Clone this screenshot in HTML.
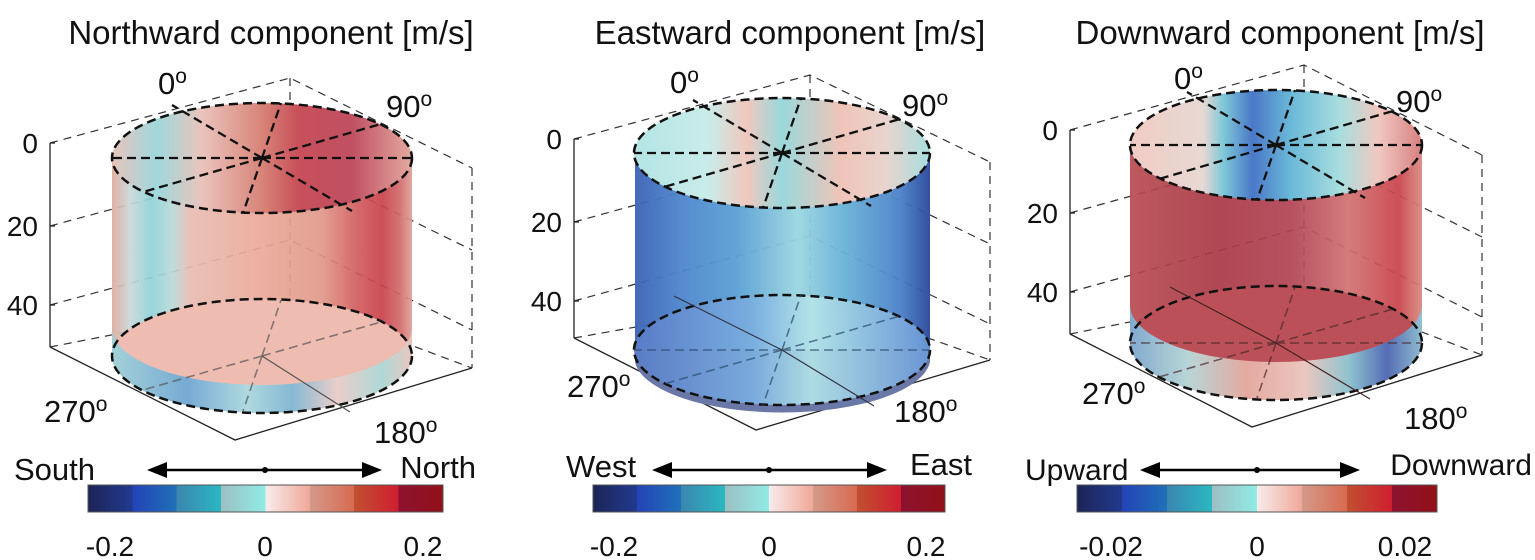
<!DOCTYPE html>
<html><head><meta charset="utf-8"><style>
html,body{margin:0;padding:0;background:#fff}
svg{display:block}
text{font-family:"Liberation Sans",Arial,sans-serif;fill:#111}
</style></head><body>
<svg width="1535" height="560" viewBox="0 0 1535 560" xmlns="http://www.w3.org/2000/svg">
<defs>
<linearGradient id="cb" x1="0" x2="1" y1="0" y2="0">
<stop offset="0" stop-color="#1c2456"/><stop offset="0.125" stop-color="#213a8f"/>
<stop offset="0.125" stop-color="#2443b8"/><stop offset="0.25" stop-color="#1f70b8"/>
<stop offset="0.25" stop-color="#3a86b0"/><stop offset="0.375" stop-color="#2ab8c0"/>
<stop offset="0.375" stop-color="#9cbfc4"/><stop offset="0.5" stop-color="#90ece6"/>
<stop offset="0.5" stop-color="#f8ecec"/><stop offset="0.625" stop-color="#f0a898"/>
<stop offset="0.625" stop-color="#d49a8a"/><stop offset="0.75" stop-color="#d86a50"/>
<stop offset="0.75" stop-color="#c05030"/><stop offset="0.875" stop-color="#d01e30"/>
<stop offset="0.875" stop-color="#8c1230"/><stop offset="1" stop-color="#921018"/>
</linearGradient>
<linearGradient id="s1" x1="0" x2="1">
<stop offset="0" stop-color="#e0a89c"/><stop offset="0.06" stop-color="#c8d8d8"/><stop offset="0.13" stop-color="#8fd2d8"/><stop offset="0.2" stop-color="#b8d8d8"/><stop offset="0.26" stop-color="#e8bcb2"/><stop offset="0.5" stop-color="#eaa898"/><stop offset="0.7" stop-color="#e09888"/><stop offset="0.82" stop-color="#d05a5c"/><stop offset="0.9" stop-color="#c8404a"/><stop offset="0.96" stop-color="#d06a6a"/><stop offset="1" stop-color="#e0a098"/>
</linearGradient>
<linearGradient id="t1" x1="0" x2="1">
<stop offset="0" stop-color="#e8c4bc"/><stop offset="0.15" stop-color="#9fd8dc"/><stop offset="0.3" stop-color="#eac4bc"/><stop offset="0.5" stop-color="#d88478"/><stop offset="0.62" stop-color="#c8505a"/><stop offset="0.8" stop-color="#c05062"/><stop offset="1" stop-color="#e4aaa0"/>
</linearGradient>
<linearGradient id="b1" x1="0" x2="1">
<stop offset="0" stop-color="#9ad4dc"/><stop offset="0.25" stop-color="#6aa8d8"/><stop offset="0.45" stop-color="#a8dce4"/><stop offset="0.6" stop-color="#7ab8d8"/><stop offset="0.75" stop-color="#e8d0cc"/><stop offset="0.9" stop-color="#a8dcdc"/><stop offset="1" stop-color="#e8c8c0"/>
</linearGradient>
<linearGradient id="s2" x1="0" x2="1">
<stop offset="0" stop-color="#3a62b4"/><stop offset="0.15" stop-color="#4c84cc"/><stop offset="0.35" stop-color="#5aa0d4"/><stop offset="0.55" stop-color="#9ad6e0"/><stop offset="0.7" stop-color="#6ab4d8"/><stop offset="0.9" stop-color="#4a80c8"/><stop offset="1" stop-color="#28479a"/>
</linearGradient>
<linearGradient id="t2" x1="0" x2="1">
<stop offset="0" stop-color="#b4e4e4"/><stop offset="0.25" stop-color="#c8ecea"/><stop offset="0.38" stop-color="#f0c8be"/><stop offset="0.5" stop-color="#9ad8dc"/><stop offset="0.7" stop-color="#f0c4b8"/><stop offset="0.85" stop-color="#e8d4ce"/><stop offset="1" stop-color="#a8dede"/>
</linearGradient>
<linearGradient id="b2" x1="0" x2="1">
<stop offset="0" stop-color="#5a7cc8"/><stop offset="0.4" stop-color="#7aaee0"/><stop offset="0.6" stop-color="#b4e4e8"/><stop offset="1" stop-color="#6a98d8"/>
</linearGradient>
<linearGradient id="s3" x1="0" x2="1">
<stop offset="0" stop-color="#b84a50"/><stop offset="0.3" stop-color="#a83844"/><stop offset="0.55" stop-color="#b04252"/><stop offset="0.75" stop-color="#d07070"/><stop offset="0.92" stop-color="#c84048"/><stop offset="1" stop-color="#d88880"/>
</linearGradient>
<linearGradient id="t3" x1="0" x2="1">
<stop offset="0" stop-color="#f0ccc4"/><stop offset="0.25" stop-color="#e8d8d4"/><stop offset="0.32" stop-color="#7ec8d8"/><stop offset="0.42" stop-color="#4a78c8"/><stop offset="0.55" stop-color="#6ab8d8"/><stop offset="0.72" stop-color="#a8dede"/><stop offset="0.85" stop-color="#f0c8c0"/><stop offset="1" stop-color="#d88080"/>
</linearGradient>
<linearGradient id="b3" x1="0" x2="1">
<stop offset="0" stop-color="#7ab4dc"/><stop offset="0.2" stop-color="#b8e4e4"/><stop offset="0.4" stop-color="#e8b4a8"/><stop offset="0.6" stop-color="#f0d4cc"/><stop offset="0.75" stop-color="#8ad0dc"/><stop offset="0.88" stop-color="#4a70c0"/><stop offset="1" stop-color="#8ac8dc"/>
</linearGradient>
</defs>

<text x="271" y="44" font-size="33" text-anchor="middle">Northward component [m/s]</text>
<text x="790" y="44" font-size="33" text-anchor="middle">Eastward component [m/s]</text>
<text x="1280" y="44" font-size="33" text-anchor="middle">Downward component [m/s]</text>

<!-- ===== Panel 1 ===== -->
<g>
 <g stroke="#333" stroke-width="1.2" stroke-dasharray="8,6" fill="none">
  <path d="M50,143 L290,78 L472,168 M290,78 V300 M472,168 V368 M50,226 L290,161 L472,250 M50,305 L290,240 L472,330 M50,347 L290,300 L472,368"/>
 </g>
 <path d="M50,143 V347 M50,143 h5 M50,226 h5 M50,305 h5 M50,347 L235,440 L472,368" stroke="#222" stroke-width="1.3" fill="none"/>
 <path d="M112,158 V356 H412 V158 Z" fill="url(#s1)" opacity="0.92"/>
 <ellipse cx="262" cy="356" rx="150" ry="57" fill="#eebcb0"/>
 <path d="M112,356 A150,57 0 0 0 412,356 L412,328 A150,57 0 0 1 112,328 Z" fill="url(#b1)" opacity="0.9"/>
 <ellipse cx="262" cy="158" rx="150" ry="55" fill="url(#t1)"/>
 <ellipse cx="262" cy="158" rx="150" ry="55" fill="none" stroke="#111" stroke-width="2.5" stroke-dasharray="9,5"/>
 <ellipse cx="262" cy="356" rx="150" ry="57" fill="none" stroke="#111" stroke-width="2.5" stroke-dasharray="9,5"/>
 <g stroke="#111" stroke-width="2.3" stroke-dasharray="9,5">
  <path d="M262,158 L143,192 M262,158 L381,124 M262,158 L172,105 M262,158 L352,211 M262,158 L243,213 M262,158 L281,103 M262,158 L112,158 M262,158 L412,158"/>
 </g>
 <g stroke="#555" stroke-width="1.6" stroke-dasharray="9,5" opacity="0.7">
  <path d="M262,356 L143,390 M262,356 L381,322 M262,356 L243,411 M262,356 L281,300"/>
 </g>
 <path d="M262,356 L350,412" stroke="#555" stroke-width="1.2"/>
 <text x="38" y="153" font-size="28" text-anchor="end">0</text>
 <text x="38" y="236" font-size="28" text-anchor="end">20</text>
 <text x="38" y="315" font-size="28" text-anchor="end">40</text>
 <text x="158" y="94" font-size="31">0<tspan font-size="21" dy="-11">o</tspan></text>
 <text x="386" y="117" font-size="31">90<tspan font-size="21" dy="-11">o</tspan></text>
 <text x="44" y="422" font-size="31">270<tspan font-size="21" dy="-11">o</tspan></text>
 <text x="374" y="443" font-size="31">180<tspan font-size="21" dy="-11">o</tspan></text>
</g>

<!-- ===== Panel 2 ===== -->
<g transform="translate(524,-4)">
 <g stroke="#333" stroke-width="1.2" stroke-dasharray="8,6" fill="none">
  <path d="M50,143 L286,79 L466,166 M286,79 V300 M466,166 V364 M50,226 L286,161 L466,248 M50,305 L286,240 L466,328 M50,342 L286,300 L466,364"/>
 </g>
 <path d="M50,143 V342 M50,143 h5 M50,226 h5 M50,305 h5 M50,342 L232,434 L466,364" stroke="#222" stroke-width="1.3" fill="none"/>
 <path d="M111,157 V354 H406 V157 Z" fill="url(#s2)" opacity="0.95"/>
 <path d="M111,354 V366 A148,55 0 0 0 406,366 V354 Z" fill="#6a78a8"/>
 <ellipse cx="258" cy="354" rx="148" ry="55" fill="url(#b2)" opacity="0.92"/>
 <ellipse cx="258" cy="157" rx="148" ry="55" fill="url(#t2)"/>
 <ellipse cx="258" cy="157" rx="148" ry="55" fill="none" stroke="#111" stroke-width="2.5" stroke-dasharray="9,5"/>
 <ellipse cx="258" cy="354" rx="148" ry="55" fill="none" stroke="#111" stroke-width="2.5" stroke-dasharray="9,5"/>
 <g stroke="#111" stroke-width="2.3" stroke-dasharray="9,5">
  <path d="M258,157 L140,191 M258,157 L376,123 M258,157 L169,104 M258,157 L347,210 M258,157 L239,212 M258,157 L277,102 M258,157 L110,157 M258,157 L406,157"/>
 </g>
 <g stroke="#2a4a6a" stroke-width="1.6" stroke-dasharray="9,5" opacity="0.7">
  <path d="M258,354 L140,388 M258,354 L376,320 M258,354 L239,409 M258,354 L277,299 M258,354 L110,354 M258,354 L406,354"/>
 </g>
 <path d="M258,354 L350,410 M258,354 L150,300" stroke="#334" stroke-width="1.2"/>
 <text x="38" y="153" font-size="28" text-anchor="end">0</text>
 <text x="38" y="236" font-size="28" text-anchor="end">20</text>
 <text x="38" y="315" font-size="28" text-anchor="end">40</text>
 <text x="146" y="97" font-size="31">0<tspan font-size="21" dy="-11">o</tspan></text>
 <text x="378" y="120" font-size="31">90<tspan font-size="21" dy="-11">o</tspan></text>
 <text x="43" y="401" font-size="31">270<tspan font-size="21" dy="-11">o</tspan></text>
 <text x="370" y="426" font-size="31">180<tspan font-size="21" dy="-11">o</tspan></text>
</g>

<!-- ===== Panel 3 ===== -->
<g transform="translate(1020,-13)">
 <g stroke="#333" stroke-width="1.2" stroke-dasharray="8,6" fill="none">
  <path d="M50,143 L284,78 L462,168 M284,78 V300 M462,168 V368 M50,226 L284,161 L462,250 M50,305 L284,240 L462,330 M50,347 L284,300 L462,368"/>
 </g>
 <path d="M50,143 V347 M50,143 h5 M50,226 h5 M50,305 h5 M50,347 L232,440 L462,368" stroke="#222" stroke-width="1.3" fill="none"/>
 <path d="M110,158 V356 H402 V158 Z" fill="url(#s3)" opacity="0.92"/>
 <ellipse cx="256" cy="356" rx="146" ry="57" fill="#bc5058"/>
 <path d="M110,356 A146,57 0 0 0 402,356 L402,318 A146,57 0 0 1 110,318 Z" fill="url(#b3)" opacity="0.9"/>
 <ellipse cx="256" cy="158" rx="146" ry="55" fill="url(#t3)"/>
 <ellipse cx="256" cy="158" rx="146" ry="55" fill="none" stroke="#111" stroke-width="2.5" stroke-dasharray="9,5"/>
 <ellipse cx="256" cy="356" rx="146" ry="57" fill="none" stroke="#111" stroke-width="2.5" stroke-dasharray="9,5"/>
 <g stroke="#111" stroke-width="2.3" stroke-dasharray="9,5">
  <path d="M256,158 L139,192 M256,158 L373,124 M256,158 L167,105 M256,158 L345,211 M256,158 L237,213 M256,158 L275,103 M256,158 L110,158 M256,158 L402,158"/>
 </g>
 <g stroke="#4a2a2a" stroke-width="1.6" stroke-dasharray="9,5" opacity="0.7">
  <path d="M256,356 L139,390 M256,356 L373,322 M256,356 L237,411 M256,356 L275,300 M256,356 L110,356 M256,356 L402,356"/>
 </g>
 <path d="M256,356 L350,412 M256,356 L150,300" stroke="#422" stroke-width="1.2"/>
 <text x="38" y="153" font-size="28" text-anchor="end">0</text>
 <text x="38" y="236" font-size="28" text-anchor="end">20</text>
 <text x="38" y="315" font-size="28" text-anchor="end">40</text>
 <text x="154" y="102" font-size="31">0<tspan font-size="21" dy="-11">o</tspan></text>
 <text x="376" y="125" font-size="31">90<tspan font-size="21" dy="-11">o</tspan></text>
 <text x="62" y="417" font-size="31">270<tspan font-size="21" dy="-11">o</tspan></text>
 <text x="384" y="442" font-size="31">180<tspan font-size="21" dy="-11">o</tspan></text>
</g>

<g stroke="#000" stroke-width="2.5">
 <line x1="160" y1="470" x2="368" y2="470"/>
 <line x1="665" y1="470" x2="873" y2="470"/>
 <line x1="1152" y1="470" x2="1346" y2="470"/>
</g>
<g fill="#000">
 <path d="M147,470 l20,-8 v16 z"/><path d="M382,470 l-20,-8 v16 z"/><circle cx="265" cy="470" r="3"/>
 <path d="M652,470 l20,-8 v16 z"/><path d="M887,470 l-20,-8 v16 z"/><circle cx="769" cy="470" r="3"/>
 <path d="M1140,470 l20,-8 v16 z"/><path d="M1360,470 l-20,-8 v16 z"/><circle cx="1257" cy="470" r="3"/>
</g>
<text x="14" y="480" font-size="31">South</text>
<text x="476" y="478" font-size="31" text-anchor="end">North</text>
<text x="566" y="477" font-size="31">West</text>
<text x="972" y="475" font-size="31" text-anchor="end">East</text>
<text x="1025" y="480" font-size="30">Upward</text>
<text x="1532" y="475" font-size="30" text-anchor="end">Downward</text>

<rect x="88" y="485" width="355" height="27" fill="url(#cb)" stroke="#555" stroke-width="1"/>
<rect x="593" y="485" width="352" height="27" fill="url(#cb)" stroke="#555" stroke-width="1"/>
<rect x="1077" y="485" width="360" height="27" fill="url(#cb)" stroke="#555" stroke-width="1"/>

<g font-size="28" text-anchor="middle">
<text x="110" y="556">-0.2</text><text x="265" y="556">0</text><text x="423" y="556">0.2</text>
<text x="614" y="556">-0.2</text><text x="769" y="556">0</text><text x="926" y="556">0.2</text>
<text x="1111" y="556">-0.02</text><text x="1257" y="556">0</text><text x="1405" y="556">0.02</text>
</g>
</svg>
</body></html>
